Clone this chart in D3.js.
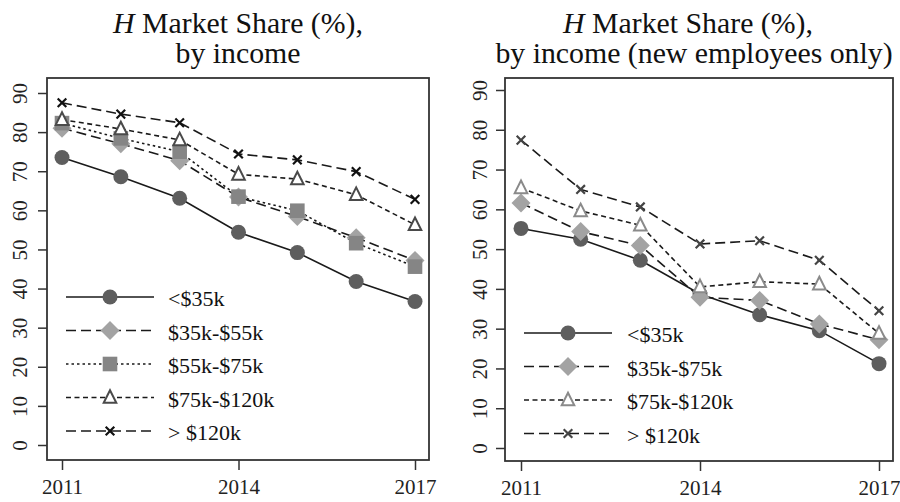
<!DOCTYPE html>
<html>
<head>
<meta charset="utf-8">
<script src="https://cdn.jsdelivr.net/npm/d3@7"></script>
<style>
  body { margin: 0; background: #fff; }
  svg { display: block; }
  svg text { font-family: "Liberation Serif", "DejaVu Serif", "Times New Roman", serif; }
</style>
</head>
<body>
<script>
// years on the x axis
const years = [2011, 2012, 2013, 2014, 2015, 2016, 2017];
const xTickYears = [2011, 2014, 2017];
const yTicks = [0, 10, 20, 30, 40, 50, 60, 70, 80, 90];

// left panel: all employees
const leftLabels = ["<$35k", "$35k-$55k", "$55k-$75k", "$75k-$120k", "> $120k"];
const leftUnder35 = [73.5, 68.6, 63.1, 54.4, 49.2, 41.8, 36.7];
const left35to55 = [81.0, 77.0, 72.7, 63.4, 58.4, 53.0, 47.2];
const left55to75 = [82.3, 78.4, 75.0, 63.5, 59.9, 51.6, 45.6];
const left75to120 = [83.2, 80.8, 78.0, 69.2, 68.0, 64.0, 56.3];
const leftOver120 = [87.5, 84.6, 82.4, 74.4, 72.9, 69.9, 62.8];

// right panel: new employees only
const rightLabels = ["<$35k", "$35k-$75k", "$75k-$120k", "> $120k"];
const rightUnder35 = [55.2, 52.5, 47.2, 38.7, 33.5, 29.5, 21.2];
const right35to75 = [61.6, 54.4, 50.9, 37.9, 37.1, 31.2, 27.2];
const right75to120 = [65.4, 59.6, 56.0, 40.5, 41.8, 41.2, 28.8];
const rightOver120 = [77.4, 65.0, 60.6, 51.3, 52.1, 47.2, 34.5];

const styles = {
  circle:   { shape: "circle",   dash: null,    fill: "#5e5e5e", stroke: "#5e5e5e", line: "#1a1a1a" },
  diamond:  { shape: "diamond",  dash: "10,5",  fill: "#a3a3a3", stroke: "#a3a3a3", line: "#1a1a1a" },
  square:   { shape: "square",   dash: "2.5,3", fill: "#858585", stroke: "#858585", line: "#1a1a1a" },
  triangle: { shape: "triangle", dash: "5,3.5", fill: "#fff",    stroke: "#4a4a4a", line: "#1a1a1a" },
  triangleLight: { shape: "triangle", dash: "5,3.5", fill: "#fff", stroke: "#8a8a8a", line: "#1a1a1a" },
  cross:    { shape: "x",        dash: "10,5",  fill: "none",    stroke: "#111",    line: "#1a1a1a" },
  crossGray:{ shape: "x",        dash: "10,5",  fill: "none",    stroke: "#444",    line: "#1a1a1a" }
};

const svg = d3.select("body").append("svg").attr("width", 900).attr("height", 502);

function marker(g, x, y, st) {
  if (st.shape === "circle") {
    g.append("circle").attr("cx", x).attr("cy", y).attr("r", 7.5).attr("fill", st.fill);
  } else if (st.shape === "diamond") {
    const s = 9.5;
    g.append("path").attr("d", `M${x},${y - s}L${x + s},${y}L${x},${y + s}L${x - s},${y}Z`).attr("fill", st.fill);
  } else if (st.shape === "square") {
    g.append("rect").attr("x", x - 7.3).attr("y", y - 7.3).attr("width", 14.6).attr("height", 14.6).attr("fill", st.fill);
  } else if (st.shape === "triangle") {
    const s = 6.3;
    g.append("path").attr("d", `M${x},${y - s - 1}L${x + s},${y + s - 1}L${x - s},${y + s - 1}Z`)
      .attr("fill", st.fill).attr("stroke", st.stroke).attr("stroke-width", 2);
  } else {
    const s = 4.3;
    g.append("path").attr("d", `M${x - s},${y - s}L${x + s},${y + s}M${x - s},${y + s}L${x + s},${y - s}`)
      .attr("stroke", st.stroke).attr("stroke-width", 2.2).attr("fill", "none");
  }
}

function panel(opt) {
  const g = svg.append("g");
  const x = d3.scaleLinear().domain([2011, 2017]).range(opt.xr);
  const y = d3.scaleLinear().domain([0, 90]).range(opt.yr);

  // titles
  const t1 = g.append("text").attr("x", opt.tx).attr("y", 33).attr("text-anchor", "middle")
    .attr("font-size", 29.8).attr("fill", "#111");
  t1.append("tspan").attr("font-style", "italic").text("H");
  t1.append("tspan").text(" Market Share (%),");
  g.append("text").attr("x", opt.tx2).attr("y", 63).attr("text-anchor", "middle")
    .attr("font-size", 29.8).attr("fill", "#111").text(opt.title2);

  // frame
  g.append("rect").attr("x", opt.frame[0]).attr("y", opt.frame[1])
    .attr("width", opt.frame[2] - opt.frame[0]).attr("height", opt.frame[3] - opt.frame[1])
    .attr("fill", "none").attr("stroke", "#333").attr("stroke-width", 1.8);

  // y axis
  const ya = g.append("g").attr("transform", `translate(${opt.frame[0]},0)`)
    .call(d3.axisLeft(y).tickValues(yTicks).tickSize(9).tickSizeOuter(0));
  ya.attr("font-family", null).attr("font-size", null);
  ya.select(".domain").remove();
  ya.selectAll("line").attr("stroke", "#333").attr("stroke-width", 1.5);
  ya.selectAll("text")
    .attr("x", 0).attr("dy", "0").attr("text-anchor", "middle")
    .attr("transform", `translate(${opt.ylab},0) rotate(-90)`)
    .attr("font-size", 21).attr("fill", "#222");

  // x axis
  const xa = g.append("g").attr("transform", `translate(0,${opt.frame[3]})`)
    .call(d3.axisBottom(x).tickValues(xTickYears).tickFormat(d3.format("d")).tickSize(10).tickSizeOuter(0));
  xa.attr("font-family", null).attr("font-size", null);
  xa.select(".domain").remove();
  xa.selectAll("line").attr("stroke", "#333").attr("stroke-width", 1.5);
  xa.selectAll("text").attr("y", 34).attr("dy", "0")
    .attr("font-size", 21).attr("fill", "#222");

  // lines
  const line = d3.line().x((d, i) => x(years[i])).y(d => y(d));
  opt.series.forEach(s => {
    g.append("path").datum(s.values).attr("d", line).attr("fill", "none")
      .attr("stroke", s.style.line).attr("stroke-width", 1.6)
      .attr("stroke-dasharray", s.style.dash);
  });
  opt.series.forEach(s => {
    s.values.forEach((v, i) => marker(g, x(years[i]), y(v), s.style));
  });

  // legend
  opt.series.forEach((s, i) => {
    const ry = opt.leg.y + i * opt.leg.dy;
    g.append("line").attr("x1", opt.leg.x1).attr("x2", opt.leg.x2).attr("y1", ry).attr("y2", ry)
      .attr("stroke", s.style.line).attr("stroke-width", 1.6).attr("stroke-dasharray", s.style.dash);
    marker(g, (opt.leg.x1 + opt.leg.x2) / 2, ry, s.style);
    g.append("text").attr("x", opt.leg.tx).attr("y", ry + 9).attr("font-size", 22)
      .attr("fill", "#111").text(s.label);
  });
}

panel({
  xr: [62, 415], yr: [445, 93], frame: [47, 78, 429, 460],
  tx: 238, tx2: 238, title2: "by income", ylab: -20,
  leg: { x1: 66, x2: 154, tx: 168, y: 297, dy: 33.5 },
  series: [
    { label: leftLabels[0], values: leftUnder35, style: styles.circle },
    { label: leftLabels[1], values: left35to55, style: styles.diamond },
    { label: leftLabels[2], values: left55to75, style: styles.square },
    { label: leftLabels[3], values: left75to120, style: styles.triangle },
    { label: leftLabels[4], values: leftOver120, style: styles.cross }
  ]
});

panel({
  xr: [521, 879], yr: [448, 90], frame: [505, 78, 893, 461],
  tx: 688, tx2: 694, title2: "by income (new employees only)", ylab: -18,
  leg: { x1: 524, x2: 612, tx: 627, y: 333, dy: 33.5 },
  series: [
    { label: rightLabels[0], values: rightUnder35, style: styles.circle },
    { label: rightLabels[1], values: right35to75, style: styles.diamond },
    { label: rightLabels[2], values: right75to120, style: styles.triangleLight },
    { label: rightLabels[3], values: rightOver120, style: styles.crossGray }
  ]
});
</script>
</body>
</html>
